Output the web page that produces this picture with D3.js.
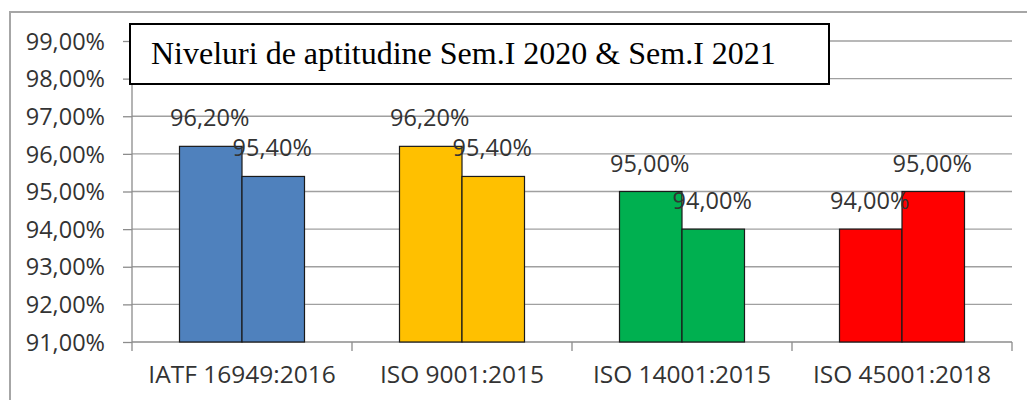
<!DOCTYPE html>
<html>
<head>
<meta charset="utf-8">
<script src="https://cdn.jsdelivr.net/npm/d3@7"></script>
<style>
  html, body { margin: 0; padding: 0; background: #fff; }
  svg { display: block; }
</style>
</head>
<body>
<svg id="chart" width="1027" height="400"></svg>
<script>
const categories = ["IATF 16949:2016", "ISO 9001:2015", "ISO 14001:2015", "ISO 45001:2018"];
const series = ["Sem.I 2020", "Sem.I 2021"];
const sem2020 = [0.962, 0.962, 0.95, 0.94];
const sem2021 = [0.954, 0.954, 0.94, 0.95];
const colors = ["#4F81BD", "#FFC000", "#00B050", "#FF0000"];
const yTicks = [0.91, 0.92, 0.93, 0.94, 0.95, 0.96, 0.97, 0.98, 0.99];
const titleText = "Niveluri de aptitudine Sem.I 2020 & Sem.I 2021";

const svg = d3.select("#chart");
const sansFont = "'Open Sans', sans-serif";
const textColor = "#333333";

const plot = { left: 132, right: 1012, top: 41, bottom: 342 };

const y = d3.scaleLinear().domain([0.91, 0.99]).range([plot.bottom, plot.top]);
const x = d3.scaleBand().domain(categories).range([plot.left, plot.right]).padding(0);
const groupWidth = 125;
const xs = d3.scaleBand().domain(series).range([-groupWidth / 2, groupWidth / 2]).padding(0);

const fmt = v => d3.format(".2f")(v * 100).replace(".", ",") + "%";

// outer border
svg.append("path")
  .attr("d", "M10,400 L10,12 L1027,12")
  .attr("fill", "none")
  .attr("stroke", "#a6a6a6")
  .attr("stroke-width", 2);

// gridlines
svg.append("g").selectAll("line").data(yTicks.slice(1)).join("line")
  .attr("x1", plot.left).attr("x2", plot.right)
  .attr("y1", d => y(d)).attr("y2", d => y(d))
  .attr("stroke", "#a0a0a0").attr("stroke-width", 1.3);

// y axis
const yAxis = d3.axisLeft(y).tickValues(yTicks).tickSize(9).tickPadding(18).tickFormat(fmt);
const gy = svg.append("g").attr("transform", `translate(${plot.left},0)`).call(yAxis);
gy.select(".domain").remove();
gy.selectAll(".tick line").attr("stroke", "#8c8c8c").attr("stroke-width", 1.3);
gy.selectAll(".tick text")
  .attr("font-family", sansFont).attr("font-size", 23.5).attr("fill", textColor)
  .attr("dy", "0.35em");
svg.append("line")
  .attr("x1", plot.left).attr("x2", plot.left)
  .attr("y1", plot.top).attr("y2", plot.bottom + 9)
  .attr("stroke", "#8c8c8c").attr("stroke-width", 1.3);

// x axis
svg.append("line")
  .attr("x1", plot.left).attr("x2", plot.right)
  .attr("y1", plot.bottom).attr("y2", plot.bottom)
  .attr("stroke", "#8c8c8c").attr("stroke-width", 1.3);
const boundaries = categories.map(c => x(c)).concat([x(categories[categories.length - 1]) + x.bandwidth()]);
svg.append("g").selectAll("line").data(boundaries.slice(1)).join("line")
  .attr("x1", d => d).attr("x2", d => d)
  .attr("y1", plot.bottom).attr("y2", plot.bottom + 9)
  .attr("stroke", "#8c8c8c").attr("stroke-width", 1.3);
svg.append("g").selectAll("text").data(categories).join("text")
  .attr("x", d => x(d) + x.bandwidth() / 2)
  .attr("y", 383)
  .attr("text-anchor", "middle")
  .attr("font-family", sansFont).attr("font-size", 24.5).attr("fill", textColor)
  .text(d => d);

// bars
const barData = [];
categories.forEach((c, i) => {
  barData.push({ cat: c, s: series[0], v: sem2020[i], color: colors[i] });
  barData.push({ cat: c, s: series[1], v: sem2021[i], color: colors[i] });
});
const cx = d => x(d.cat) + x.bandwidth() / 2 + xs(d.s);
svg.append("g").selectAll("rect").data(barData).join("rect")
  .attr("x", d => cx(d))
  .attr("y", d => y(d.v))
  .attr("width", xs.bandwidth())
  .attr("height", d => y(0.91) - y(d.v))
  .attr("fill", d => d.color)
  .attr("stroke", "#1a1a1a").attr("stroke-width", 1.2);

// data labels
svg.append("g").selectAll("text").data(barData).join("text")
  .attr("x", d => cx(d) + xs.bandwidth() / 2 - 1)
  .attr("y", d => y(d.v) - 20)
  .attr("text-anchor", "middle")
  .attr("font-family", sansFont).attr("font-size", 23.5).attr("fill", textColor)
  .text(d => fmt(d.v));

// title box
svg.append("rect")
  .attr("x", 130).attr("y", 24).attr("width", 699).attr("height", 60)
  .attr("fill", "#fff").attr("stroke", "#000").attr("stroke-width", 2);
svg.append("text")
  .attr("x", 151).attr("y", 64)
  .attr("font-family", "'Liberation Serif', 'Times New Roman', serif")
  .attr("font-size", 32).attr("fill", "#000")
  .text(titleText);
</script>
</body>
</html>
